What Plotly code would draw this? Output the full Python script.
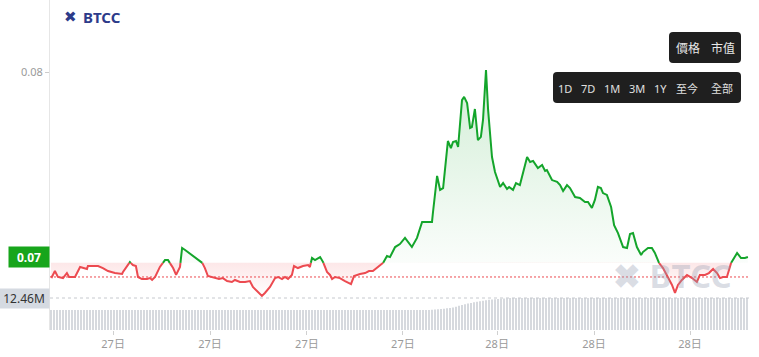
import numpy as np
import plotly.graph_objects as go

# ---------------- data ----------------
line_t = [0, 0.3, 1.3, 2.3, 4, 5.3, 6, 8, 9.7, 10.7, 12, 12.3, 14.7, 15.7, 17.3, 19, 21.3, 23.7, 24, 25.3,
          26.3, 27.3, 28.3, 29, 30.3, 32, 33, 33.7, 34.7, 36.3, 38, 39, 40.7, 41.7, 43, 43.7, 44.7, 47.3, 50.3, 51.3,
          52.3, 53.7, 54.7, 56, 57.3, 58.7, 60.3, 61.3, 63, 64.7, 66.3, 67.3, 69, 70.3, 71.3, 73, 74.7, 75.7, 77, 78,
          79, 80.3, 81, 82.3, 84, 85.7, 86.3, 87, 88, 89.7, 90.7, 92, 93, 93.7, 94.7, 96.3, 98, 99, 100, 101,
          103, 104.7, 106, 107.3, 109, 110.7, 112, 113, 114.7, 116.3, 118, 120.3, 122, 123.7, 127, 127.3, 128.7, 129.7, 130.7, 132,
          132.3, 133.3, 134, 135, 135.7, 137, 137.7, 138.7, 139.7, 140.3, 141.3, 142.3, 143.3, 144, 145, 145.7, 147, 148, 149.7, 150.7,
          152, 152.7, 154, 155, 156.3, 158.7, 159.7, 160.7, 162.3, 163.7, 164.7, 165.3, 167, 168.7, 169.7, 170.7, 172, 173, 174.7, 176.3,
          178, 179, 180.3, 181.3, 182.3, 183.3, 184, 185.3, 186.7, 187.7, 189, 190.7, 192, 193, 194, 195.3, 196.7, 197.3, 199, 200.3,
          201.3, 202.7, 204, 205.7, 207, 208, 209, 210.3, 212, 213.7, 215.3, 216.3, 218, 219.3, 220.7, 222, 223, 224, 225.3, 226.7,
          227.3, 228.7, 230, 231.3, 232.3]
line_price = [0.06903, 0.06898, 0.06930, 0.06898, 0.06892, 0.06919, 0.06898, 0.06898, 0.06952, 0.06946,
              0.06941, 0.06957, 0.06957, 0.06957, 0.06946, 0.06930, 0.06919, 0.06914, 0.06925, 0.06957,
              0.06978, 0.06962, 0.06957, 0.06898, 0.06887, 0.06887, 0.06892, 0.06882, 0.06898, 0.06952,
              0.06989, 0.06989, 0.06946, 0.06909, 0.06952, 0.07054, 0.07043, 0.07011, 0.06978, 0.06946,
              0.06903, 0.06898, 0.06892, 0.06887, 0.06892, 0.06876, 0.06871, 0.06882, 0.06871, 0.06871,
              0.06876, 0.06844, 0.06817, 0.06796, 0.06812, 0.06844, 0.06892, 0.06898, 0.06887, 0.06898,
              0.06887, 0.06909, 0.06957, 0.06946, 0.06957, 0.06962, 0.06952, 0.07000, 0.06989, 0.07005,
              0.06978, 0.06925, 0.06909, 0.06887, 0.06898, 0.06892, 0.06876, 0.06866, 0.06860, 0.06903,
              0.06914, 0.06919, 0.06930, 0.06930, 0.06952, 0.06973, 0.07011, 0.07005, 0.07059, 0.07075,
              0.07108, 0.07059, 0.07108, 0.07194, 0.07194, 0.07242, 0.07441, 0.07366, 0.07376, 0.07581,
              0.07629, 0.07591, 0.07624, 0.07629, 0.07597, 0.07849, 0.07866, 0.07833, 0.07699, 0.07704,
              0.07801, 0.07634, 0.07651, 0.07742, 0.08011, 0.07796, 0.07543, 0.07462, 0.07382, 0.07403,
              0.07371, 0.07382, 0.07366, 0.07403, 0.07392, 0.07543, 0.07516, 0.07522, 0.07484, 0.07500,
              0.07468, 0.07473, 0.07419, 0.07409, 0.07392, 0.07360, 0.07392, 0.07376, 0.07328, 0.07323,
              0.07301, 0.07301, 0.07269, 0.07312, 0.07382, 0.07376, 0.07349, 0.07339, 0.07274, 0.07177,
              0.07134, 0.07059, 0.07054, 0.07129, 0.07134, 0.07059, 0.07016, 0.07032, 0.07054, 0.07054,
              0.07027, 0.06973, 0.06946, 0.06898, 0.06855, 0.06812, 0.06855, 0.06882, 0.06909, 0.06892,
              0.06871, 0.06909, 0.06909, 0.06919, 0.06941, 0.06919, 0.06892, 0.06898, 0.06898, 0.06973,
              0.06989, 0.07027, 0.07000, 0.07000, 0.07005]

volume_m = [7.8, 7.8, 7.8, 7.8, 7.8, 7.8, 7.8, 7.8, 7.8, 7.8, 7.8, 7.8, 7.8, 7.8, 7.8, 7.8, 7.8, 7.8, 7.8, 7.8,
            7.8, 7.8, 7.8, 7.8, 7.8, 7.8, 7.8, 7.8, 7.8, 7.8, 7.8, 7.8, 7.8, 7.8, 7.8, 7.8, 7.8, 7.8, 7.8, 7.8,
            7.8, 7.8, 7.8, 7.8, 7.8, 7.8, 7.8, 7.8, 7.8, 7.8, 7.8, 7.8, 7.8, 7.8, 7.8, 7.8, 7.8, 7.8, 7.8, 7.8,
            7.8, 7.8, 7.8, 7.8, 7.8, 7.8, 7.8, 7.8, 7.8, 7.8, 7.8, 7.8, 7.8, 7.8, 7.8, 7.8, 7.8, 7.8, 7.8, 7.8,
            7.8, 7.8, 7.8, 7.8, 7.8, 7.8, 7.8, 7.8, 7.8, 7.8, 7.8, 7.8, 7.8, 7.8, 7.8, 7.8, 7.8, 7.8, 7.8, 7.8,
            7.8, 7.8, 7.8, 7.8, 7.8, 7.8, 7.8, 7.8, 7.8, 7.8, 7.8, 7.8, 7.8, 7.8, 7.8, 7.8, 7.8, 7.8, 7.8, 7.8,
            7.8, 7.8, 7.8, 7.8, 7.8, 7.8, 7.8,
            7.9, 8.0, 8.1, 8.2, 8.3, 8.5, 8.6, 8.8, 9.1, 9.4, 9.7, 10.0, 10.3, 10.5, 10.8, 11.0, 11.2, 11.4, 11.6, 11.8,
            11.9, 12.0, 12.1, 12.2, 12.3, 12.4,
            12.46, 12.46, 12.46, 12.46, 12.46, 12.46, 12.46, 12.46, 12.46, 12.46, 12.46, 12.46, 12.46, 12.46, 12.46, 12.46, 12.46, 12.46, 12.46, 12.46,
            12.46, 12.46, 12.46, 12.46, 12.46, 12.46, 12.46, 12.46, 12.46, 12.46, 12.46, 12.46, 12.46, 12.46, 12.46, 12.46, 12.46, 12.46, 12.46, 12.46,
            12.46, 12.46, 12.46, 12.46, 12.46, 12.46, 12.46, 12.46, 12.46, 12.46, 12.46, 12.46, 12.46, 12.46, 12.46, 12.46, 12.46, 12.46, 12.46, 12.46,
            12.46, 12.46, 12.46, 12.46, 12.46, 12.46, 12.46, 12.46, 12.46, 12.46, 12.46, 12.46, 12.46, 12.46, 12.46, 12.46, 12.46, 12.46, 12.46, 12.46]

base_price = 0.06974      # baseline (colour switch)
ref_price = 0.06898       # red dotted price line
last_price = 0.07005
last_volume = 12.46

x_tick_vals = [20.7, 53, 85.3, 117.3, 148.7, 181, 213]
x_tick_text = ["27日", "27日", "27日", "27日", "28日", "28日", "28日"]
y_tick_vals = [0.07, 0.08]
y_tick_text = ["", "0.08"]   # 0.07 is shown by the last-price tag

range_buttons = ["1D", "7D", "1M", "3M", "1Y", "至今", "全部"]
type_buttons = ["價格", "市值"]

# ---------------- layout constants ----------------
W, H = 759, 357
ML, MR, MT, MB = 50, 10, 0, 27
PW, PH = W - ML - MR, H - MT - MB

def pxx(x):
    return (x - ML) / PW

def pxy(y):
    return (H - MB - y) / PH

def rrect(x0, y0, x1, y1, r):
    rx, ry = r / PW, r / PH
    a, b, c, d = pxx(x0), pxy(y1), pxx(x1), pxy(y0)
    return (f"M{a+rx},{b} L{c-rx},{b} Q{c},{b} {c},{b+ry} L{c},{d-ry} Q{c},{d} {c-rx},{d} "
            f"L{a+rx},{d} Q{a},{d} {a},{d-ry} L{a},{b+ry} Q{a},{b} {a+rx},{b} Z")

GREEN = "#14a52b"
RED = "#ec4a50"
FONT = "Noto Sans, Noto Sans CJK TC, sans-serif"

# ---------------- split at baseline ----------------
t = np.array(line_t, dtype=float)
p = np.array(line_price, dtype=float)
xs, ys = [t[0]], [p[0]]
for i in range(1, len(t)):
    a, b = p[i - 1] - base_price, p[i] - base_price
    if a * b < 0:
        f = a / (a - b)
        xs.append(t[i - 1] + f * (t[i] - t[i - 1]))
        ys.append(base_price)
    xs.append(t[i])
    ys.append(p[i])
xs = np.array(xs)
ys = np.array(ys)
up_line = [v if v >= base_price - 1e-12 else None for v in ys]
dn_line = [v if v <= base_price + 1e-12 else None for v in ys]
top = np.maximum(ys, base_price)
bot = np.minimum(ys, base_price)
basel = np.full(len(xs), base_price)

fig = go.Figure()

# volume bars
fig.add_trace(go.Bar(x=list(range(len(volume_m))), y=volume_m, yaxis="y2",
                     marker=dict(color="#d6d9de", line=dict(width=0)), hoverinfo="skip"))

# green area
fig.add_trace(go.Scatter(x=xs, y=basel, mode="lines", line=dict(width=0), hoverinfo="skip"))
fig.add_trace(go.Scatter(x=xs, y=top, mode="lines", line=dict(width=0), fill="tonexty",
                         fillgradient=dict(type="vertical",
                                           colorscale=[[0, "rgba(20,165,43,0.02)"], [1, "rgba(20,165,43,0.20)"]],
                                           start=base_price, stop=0.0805),
                         hoverinfo="skip"))
# red area
fig.add_trace(go.Scatter(x=xs, y=basel, mode="lines", line=dict(width=0), hoverinfo="skip"))
fig.add_trace(go.Scatter(x=xs, y=bot, mode="lines", line=dict(width=0), fill="tonexty",
                         fillgradient=dict(type="vertical",
                                           colorscale=[[0, "rgba(236,74,80,0.0)"], [1, "rgba(236,74,80,0.13)"]],
                                           start=0.0679, stop=base_price),
                         hoverinfo="skip"))
# lines
fig.add_trace(go.Scatter(x=xs, y=dn_line, mode="lines", line=dict(color=RED, width=2), connectgaps=False))
fig.add_trace(go.Scatter(x=xs, y=up_line, mode="lines", line=dict(color=GREEN, width=2), connectgaps=False))

shapes = [
    dict(type="line", xref="paper", yref="y", x0=0, x1=1, y0=ref_price, y1=ref_price,
         line=dict(color=RED, width=1, dash="2px,2px"), layer="above"),
    dict(type="line", xref="paper", yref="y2", x0=0, x1=1, y0=last_volume, y1=last_volume,
         line=dict(color="#c6c9ce", width=1, dash="3px,3px"), layer="above"),
    dict(type="path", xref="paper", yref="paper", path=rrect(669, 32, 741, 63, 4),
         fillcolor="#1f1f1f", line=dict(width=0)),
    dict(type="path", xref="paper", yref="paper", path=rrect(553, 72, 741, 103, 4),
         fillcolor="#1f1f1f", line=dict(width=0)),
]

ann = []
# price tag
ann.append(dict(xref="paper", yref="y", x=0, y=last_price, xanchor="right", yanchor="middle",
                text="<b>0.07</b>", showarrow=False, bgcolor="#17a51b", width=38, height=18,
                font=dict(color="white", size=12, family=FONT)))
ann.append(dict(xref="paper", yref="y2", x=0, y=last_volume, xanchor="right", yanchor="middle",
                text="12.46M", showarrow=False, bgcolor="#d5dae1", width=48, height=17,
                font=dict(color="#333333", size=12, family=FONT)))
# logo
ann.append(dict(xref="paper", yref="paper", x=pxx(70), y=pxy(17), text="<b>✖</b>", showarrow=False,
                font=dict(color="#2d3b8a", size=15, family="DejaVu Sans"), xanchor="center", yanchor="middle"))
ann.append(dict(xref="paper", yref="paper", x=pxx(81), y=pxy(17), text="<b>BTCC</b>", showarrow=False,
                font=dict(color="#2d3b8a", size=15, family=FONT), xanchor="left", yanchor="middle"))
# watermarks
ann.append(dict(xref="paper", yref="paper", x=pxx(672), y=pxy(275), text="<b>✖ BTCC</b>", showarrow=False,
                font=dict(color="rgba(150,158,178,0.35)", size=33, family=FONT), xanchor="center", yanchor="middle"))
ann.append(dict(xref="paper", yref="paper", x=pxx(340), y=pxy(165), text="<b>✖ BTCC</b>", showarrow=False,
                font=dict(color="rgba(0,0,0,0.025)", size=30, family=FONT), xanchor="center", yanchor="middle"))
# buttons
for txt, x in zip(type_buttons, [688, 723]):
    ann.append(dict(xref="paper", yref="paper", x=pxx(x), y=pxy(48), text=txt, showarrow=False,
                    font=dict(color="#e8e8e8", size=12, family=FONT), xanchor="center", yanchor="middle"))
for txt, x in zip(range_buttons, [565, 588, 612, 637, 660, 687, 722]):
    ann.append(dict(xref="paper", yref="paper", x=pxx(x), y=pxy(88), text=txt, showarrow=False,
                    font=dict(color="#e0e0e0", size=11, family=FONT), xanchor="center", yanchor="middle"))

fig.update_layout(
    width=W, height=H, margin=dict(l=ML, r=MR, t=MT, b=MB),
    paper_bgcolor="white", plot_bgcolor="white", showlegend=False,
    bargap=0.62, font=dict(family=FONT),
    xaxis=dict(range=[-0.333, 232.667], showgrid=False, zeroline=False, showline=False,
               tickvals=x_tick_vals, ticktext=x_tick_text, ticks="outside", ticklen=4, tickcolor="#d0d0d0",
               tickfont=dict(color="#9a9a9a", size=11)),
    yaxis=dict(range=[0.066129, 0.083871], showgrid=False, zeroline=False, showline=True,
               linecolor="#e6e6e6", linewidth=1,
               tickvals=y_tick_vals, ticktext=y_tick_text, ticks="outside", ticklen=4, tickcolor="#cccccc",
               tickfont=dict(color="#9a9a9a", size=11)),
    yaxis2=dict(range=[0, 128.5], overlaying="y", visible=False),
    shapes=shapes, annotations=ann,
)

fig.write_html("out.html", config={"displayModeBar": False},
               post_script="document.body.style.margin='0px';document.body.style.overflow='hidden';")
